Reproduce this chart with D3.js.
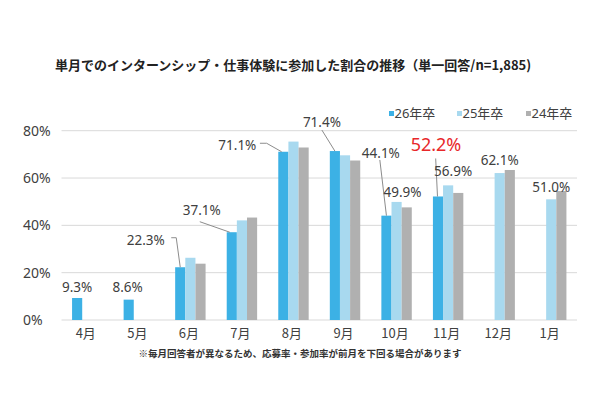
<!DOCTYPE html>
<html><head><meta charset="utf-8">
<script src="https://cdn.jsdelivr.net/npm/d3@7"></script>
<style>body{margin:0;background:#fff}svg{display:block}</style>
</head><body><svg id="c" width="600" height="400"></svg>
<script>
const months = ["4月","5月","6月","7月","8月","9月","10月","11月","12月","1月"];
const seriesNames = ["26年卒","25年卒","24年卒"];
const s26 = [9.3, 8.6, 22.3, 37.1, 71.1, 71.4, 44.1, 52.2, null, null];
const s25 = [null, null, 26.3, 42.1, 75.4, 69.6, 49.9, 56.9, 62.1, 51.0];
const s24 = [null, null, 23.8, 43.3, 72.9, 67.4, 47.6, 53.7, 63.4, 54.5];
const yTicks = [0, 20, 40, 60, 80];
const title = "単月でのインターンシップ・仕事体験に参加した割合の推移（単一回答/n=1,885)";
const footnote = "※毎月回答者が異なるため、応募率・参加率が前月を下回る場合があります";
// label layout: [month index, series index, dx, dy, leader points relative to bar top]
const labelLayout = [
  [0,0, 0,-11, null],
  [1,0, -1,-12.5, null],
  [2,0, -34.5,-27, [[-9,-29.5],[-4,-29.5],[0,0]]],
  [3,0, -30,-22, [[-32,-10.5],[-2,0]]],
  [4,0, -46,-7, [[-23.4,-8.5],[-16.7,-8.5],[-1.7,0]]],
  [5,0, -13,-29, [[-13,-21],[0,0]]],
  [6,0, -5.6,-62.4, [[-6.6,-55.7],[0,0]]],
  [7,0, -2,-51.5, [[-2.3,-38],[-0.5,0]]],
  [6,1, 6,-9.5, null],
  [7,1, 5,-14, null],
  [8,1, 0,-13, null],
  [9,1, 0,-12, null]
];
const highlight = [7,0];

const colors = ["#3cb1e5","#a8d9ef","#b0b0b0"];
const svg = d3.select("#c");
const font = "'Noto Sans','Noto Sans CJK JP',sans-serif";
const all = [s26, s25, s24];

const x = d3.scaleBand().domain(months).range([61.5, 577]).paddingInner(0.41).paddingOuter(0.205);
const xs = d3.scaleBand().domain([0,1,2]).range([0, x.bandwidth()]);
const y = d3.scaleLinear().domain([0, 80]).range([320, 130.7]);

// title
svg.append("text").attr("x", 55).attr("y", 70).attr("font-family","'Noto Sans CJK JP',sans-serif")
  .attr("font-size", 13).attr("font-weight", "bold").attr("fill", "#222").text(title);

// grid
svg.append("g").selectAll("line").data(yTicks).join("line")
  .attr("x1", 61.5).attr("x2", 577).attr("y1", d => y(d)).attr("y2", d => y(d))
  .attr("stroke", "#d9d9d9").attr("stroke-width", 1);
svg.append("g").selectAll("text").data(yTicks).join("text")
  .attr("x", 23).attr("y", d => y(d)).attr("dy", "0.36em")
  .attr("font-family", font).attr("font-size", 14).attr("fill", "#404040").text(d => d + "%");

// bars
all.forEach((s, si) => {
  svg.append("g").selectAll("rect").data(months.map((m,i)=>({m, v:s[i]})).filter(d => d.v != null)).join("rect")
    .attr("x", d => x(d.m) + xs(si)).attr("width", xs.bandwidth())
    .attr("y", d => y(d.v)).attr("height", d => y(0) - y(d.v)).attr("fill", colors[si]);
});

// x labels
svg.append("g").selectAll("text").data(months).join("text")
  .attr("x", d => x(d) + x.bandwidth()/2 - 1.5).attr("y", 333).attr("dy","0.36em").attr("text-anchor","middle")
  .attr("font-family", "'Noto Sans CJK JP',sans-serif").attr("font-size", 13).attr("fill", "#404040").text(d => d);

// labels
const line = d3.line();
labelLayout.forEach(([mi, si, dx, dy, leader]) => {
  const v = all[si][mi];
  const bx = x(months[mi]) + xs(si) + xs.bandwidth()/2, by = y(v);
  const isHi = mi === highlight[0] && si === highlight[1];
  if (leader) {
    svg.append("path").attr("d", line(leader.map(p => [bx + p[0], by + p[1]])))
      .attr("fill","none").attr("stroke","#8c8c8c").attr("stroke-width",1);
  }
  svg.append("text").attr("x", bx + dx).attr("y", by + dy).attr("dy","0.36em").attr("text-anchor","middle")
    .attr("font-family", font).attr("font-size", isHi ? 18 : 13.5)
    .attr("fill", isHi ? "#e8272a" : "#404040").text(v.toFixed(1) + "%");
});

// legend
const legX = [389, 457, 526];
seriesNames.forEach((n, i) => {
  svg.append("rect").attr("x", legX[i]).attr("y", 111).attr("width", 5).attr("height", 5).attr("fill", colors[i]);
  svg.append("text").attr("x", legX[i] + 5.5).attr("y", 113.5).attr("dy","0.36em")
    .attr("font-family", font).attr("font-size", 13).attr("fill", "#404040").text(n);
});

// footnote
svg.append("text").attr("x", 300).attr("y", 354).attr("dy","0.36em").attr("text-anchor","middle")
  .attr("font-family","'Noto Sans CJK JP',sans-serif").attr("font-size", 9.5).attr("font-weight","bold")
  .attr("fill","#333").text(footnote);
</script></body></html>
